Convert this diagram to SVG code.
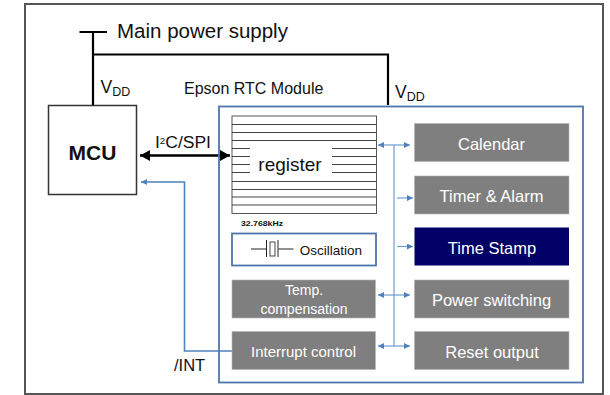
<svg xmlns="http://www.w3.org/2000/svg" width="610" height="395" viewBox="0 0 610 395">
<style>
text{font-family:"Liberation Sans",Arial,sans-serif;fill:#111}
.g{fill:#7f7f7f;stroke:#b5b5b5;stroke-width:.6}
.w{fill:#fff;text-anchor:middle;font-size:16.500px}
.w2{fill:#fff;text-anchor:middle;font-size:14px}
.bl{fill:none;stroke:#2f2f2f;stroke-width:.9}
</style>
<defs>
<marker id="a" markerWidth="8" markerHeight="8" refX="6" refY="3" orient="auto-start-reverse" markerUnits="userSpaceOnUse"><path d="M0,0L6,3L0,6z" fill="#4f81bd"/></marker>
<marker id="k" markerWidth="12" markerHeight="12" refX="10" refY="5.500" orient="auto-start-reverse" markerUnits="userSpaceOnUse"><path d="M0,0L10,5.500L0,11z" fill="#000"/></marker>
</defs>
<rect width="610" height="395" fill="#fff"/>
<rect id="frame" x="25" y="4" width="578" height="390" fill="none" stroke="#555" stroke-width="2"/>
<g id="connectors" fill="none">
<path d="M79.500 32H107M93 32V105M93 54.500H388V105" stroke="#000" stroke-width="2.200"/>
<path d="M140 155.500H230" stroke="#000" stroke-width="2.600" marker-start="url(#k)" marker-end="url(#k)"/>
<path d="M232 351H184.500V182H141" stroke="#4f81bd" stroke-width="1.600" marker-end="url(#a)"/>
<g stroke="#6f9bd0" stroke-width="1.200">
<path d="M394 145V346"/>
<path d="M378 145H410" marker-start="url(#a)" marker-end="url(#a)"/>
<path d="M397 198H413" marker-end="url(#a)"/>
<path d="M397 246.500H413" marker-end="url(#a)"/>
<path d="M378 295H410" marker-start="url(#a)" marker-end="url(#a)"/>
<path d="M378 346H410" marker-start="url(#a)" marker-end="url(#a)"/>
</g>
</g>
<g id="module"><rect x="219" y="106.500" width="364" height="276" fill="none" stroke="#4f76a8" stroke-width="1.800"/></g>
<g id="mcu"><rect x="48.500" y="105.500" width="88" height="89" fill="#fff" stroke="#333" stroke-width="1.500"/><text x="92.500" y="160" font-size="21" font-weight="bold" text-anchor="middle">MCU</text></g>
<g id="register">
<rect x="232" y="116" width="144.500" height="97.500" fill="#fff" stroke="#555" stroke-width="1"/>
<path d="M232 124.500H376M232 132.500H376M232 140.500H376M232 148.500H250M332 148.500H376M232 156.500H250M332 156.500H376M232 164.500H250M332 164.500H376M232 172.500H250M332 172.500H376M232 181.500H376M232 189.500H376M232 197H376M232 205H376" class="bl"/>
<text x="290" y="171" font-size="19" text-anchor="middle">register</text>
</g>
<text x="241" y="226" font-size="8" font-weight="bold" textLength="42" lengthAdjust="spacingAndGlyphs">32.768kHz</text>
<g id="oscillation">
<rect x="232" y="233.500" width="144" height="32" fill="#fff" stroke="#4f76a8" stroke-width="1.800"/>
<path d="M251 249H266M266.500 240V257M278 240V257M278.500 249H293.500" stroke="#222" stroke-width="1" fill="none"/>
<rect x="270" y="242" width="5" height="14" fill="none" stroke="#333" stroke-width=".9"/>
<text x="331" y="255" font-size="13.500" text-anchor="middle">Oscillation</text>
</g>
<g id="temp"><rect class="g" x="232" y="280" width="143.500" height="38"/><text class="w2" x="304" y="295">Temp.</text><text class="w2" x="304" y="314">compensation</text></g>
<g id="interrupt"><rect class="g" x="232" y="331.500" width="143.500" height="38"/><text class="w2" x="303.500" y="357" textLength="105" lengthAdjust="spacingAndGlyphs">Interrupt control</text></g>
<g id="calendar"><rect class="g" x="414.500" y="123.500" width="154.500" height="38"/><text class="w" x="491.500" y="149.500">Calendar</text></g>
<g id="timer"><rect class="g" x="414.500" y="176" width="154.500" height="38"/><text class="w" x="491.500" y="202">Timer &amp; Alarm</text></g>
<g id="timestamp"><rect x="414.500" y="227.500" width="154.500" height="38" fill="#000066"/><text class="w" x="492" y="254">Time Stamp</text></g>
<g id="power"><rect class="g" x="414.500" y="280" width="154.500" height="38"/><text class="w" x="491.500" y="306">Power switching</text></g>
<g id="reset"><rect class="g" x="414.500" y="331.500" width="154.500" height="38"/><text class="w" x="492" y="358">Reset output</text></g>
<text x="117" y="38" font-size="20.500">Main power supply</text>
<text x="100.500" y="93" font-size="17.500">V<tspan font-size="12.500" dy="3">DD</tspan></text>
<text x="395" y="98" font-size="17.500">V<tspan font-size="12.500" dy="3">DD</tspan></text>
<text x="184" y="94" font-size="16">Epson RTC Module</text>
<text x="155" y="148" font-size="16" textLength="56" lengthAdjust="spacingAndGlyphs">I<tspan font-size="9" dy="-4">2</tspan><tspan dy="4">C/SPI</tspan></text>
<text x="174" y="371" font-size="16.500">/INT</text>
</svg>
